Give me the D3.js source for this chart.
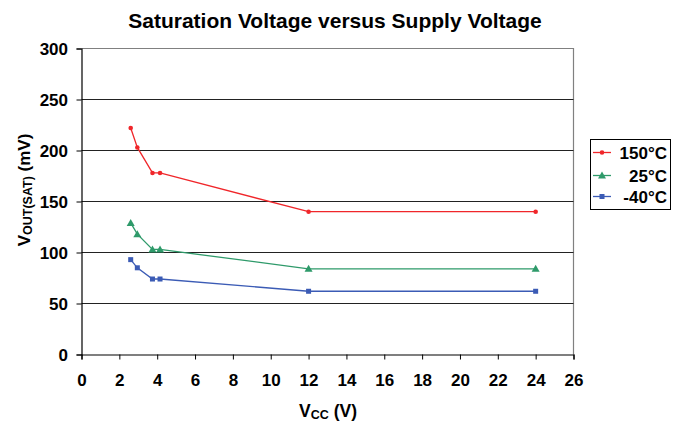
<!DOCTYPE html>
<html><head><meta charset="utf-8">
<script src="https://cdn.jsdelivr.net/npm/d3@7"></script>
<style>body{margin:0;background:#fff}svg{display:block}text{font-family:"Liberation Sans",Arial,sans-serif;font-weight:bold}</style>
</head><body>
<svg id="c" width="681" height="424"></svg>
<script>
const vcc = [2.6, 2.95, 3.75, 4.15, 12, 24];
const s150 = [222, 203, 178, 178, 140, 140];
const s25 = [129, 118, 103, 103, 84, 84];
const sm40 = [93, 85, 74, 74, 62, 62];
const seriesNames = ["150°C", "25°C", "-40°C"];
const seriesColors = ["#f0262a", "#2e9a6a", "#3b5bb5"];
const seriesMarkers = ["circle", "triangle", "square"];
const xTicks = d3.range(0, 27, 2);
const yTicks = d3.range(0, 301, 50);

const svg = d3.select("#c");
const L = 81.5, R = 573.5, T = 48.5, B = 354.5;
const x = d3.scaleLinear().domain([0, 26]).range([L, R]);
const y = d3.scaleLinear().domain([0, 300]).range([B, T]);

svg.append("text").attr("x", 335).attr("y", 28).attr("text-anchor", "middle")
  .attr("font-size", 21).text("Saturation Voltage versus Supply Voltage");

// plot border (top/right)
svg.append("path").attr("d", `M${L},${T}H${R}V${B}`).attr("fill", "none").attr("stroke", "#808080").attr("stroke-width", 1.2);
// gridlines
svg.append("g").selectAll("line").data(yTicks.filter(v => v > 0 && v < 300)).join("line")
  .attr("x1", L).attr("x2", R).attr("y1", d => y(d)).attr("y2", d => y(d))
  .attr("stroke", "#222").attr("stroke-width", 1);

// axes
const gx = svg.append("g").attr("transform", `translate(0,${B})`)
  .call(d3.axisBottom(x).tickValues(xTicks).tickSize(5).tickPadding(14.5).tickFormat(d3.format("d")));
const gy = svg.append("g").attr("transform", `translate(${L},0)`)
  .call(d3.axisLeft(y).tickValues(yTicks).tickSize(5).tickPadding(8.5).tickFormat(d3.format("d")));
[gx, gy].forEach(g => {
  g.select(".domain").attr("stroke", "#000").attr("stroke-width", 1.2);
  g.selectAll(".tick line").attr("stroke", "#000");
  g.selectAll("text").attr("font-size", 17).attr("font-family", '"Liberation Sans",Arial,sans-serif').attr("font-weight", "bold").attr("fill", "#000");
});
gy.selectAll("text").attr("dy", "0.36em");

// axis titles
const xt = svg.append("text").attr("x", 328).attr("y", 417).attr("text-anchor", "middle").attr("font-size", 17.5);
xt.append("tspan").text("V");
xt.append("tspan").attr("font-size", 12.5).attr("dy", 2).text("CC");
xt.append("tspan").attr("dy", -2).text(" (V)");

const yt = svg.append("text").attr("transform", "translate(30,190) rotate(-90)").attr("text-anchor", "middle").attr("font-size", 17);
yt.append("tspan").text("V");
yt.append("tspan").attr("font-size", 12.5).attr("dy", 2).text("OUT(SAT)");
yt.append("tspan").attr("dy", -2).text(" (mV)");

function marker(g, type, color, cx, cy) {
  if (type === "circle") g.append("circle").attr("cx", cx).attr("cy", cy).attr("r", 2.3).attr("fill", color);
  else if (type === "square") g.append("rect").attr("x", cx - 2.5).attr("y", cy - 2.5).attr("width", 5).attr("height", 5).attr("fill", color);
  else g.append("path").attr("d", `M${cx},${cy - 4}L${cx + 4},${cy + 3}L${cx - 4},${cy + 3}Z`).attr("fill", color);
}

const allSeries = [s150, s25, sm40];
const line = d3.line().x(d => x(d[0])).y(d => y(d[1]));
allSeries.forEach((s, i) => {
  const pts = vcc.map((v, j) => [v, s[j]]);
  svg.append("path").attr("d", line(pts)).attr("fill", "none").attr("stroke", seriesColors[i]).attr("stroke-width", 1.3);
  const g = svg.append("g");
  pts.forEach(p => marker(g, seriesMarkers[i], seriesColors[i], x(p[0]), y(p[1])));
});

// legend
const lg = svg.append("g");
lg.append("rect").attr("x", 590.5).attr("y", 139.5).attr("width", 80).attr("height", 70).attr("fill", "#fff").attr("stroke", "#000").attr("stroke-width", 1);
const rowsY = [152.5, 175.5, 196.5];
seriesNames.forEach((n, i) => {
  lg.append("line").attr("x1", 593).attr("x2", 611).attr("y1", rowsY[i]).attr("y2", rowsY[i]).attr("stroke", seriesColors[i]).attr("stroke-width", 1.3);
  marker(lg, seriesMarkers[i], seriesColors[i], 602, rowsY[i]);
  lg.append("text").attr("x", 667).attr("y", rowsY[i]).attr("dy", "0.36em").attr("text-anchor", "end").attr("font-size", 17).text(n);
});
</script>
</body></html>
